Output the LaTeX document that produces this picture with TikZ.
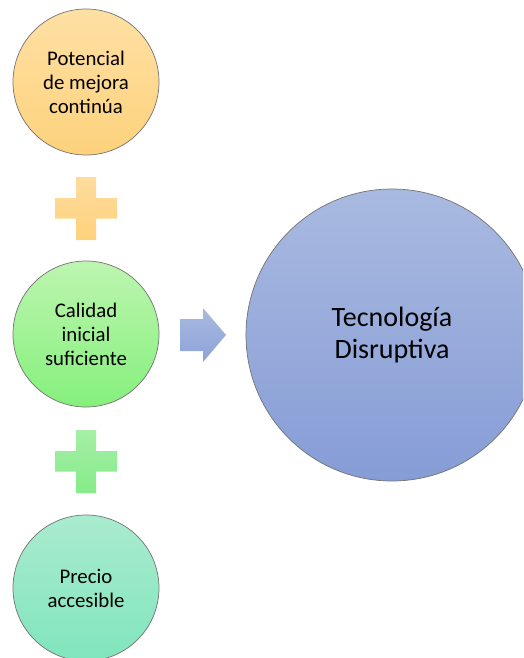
\documentclass[tikz,border=0pt]{standalone}
\usepackage{fontspec}
\setmainfont{Carlito}
\definecolor{orTop}{HTML}{FEE0A4}
\definecolor{orBot}{HTML}{FDD27C}
\definecolor{grTop}{HTML}{BDF5B0}
\definecolor{grBot}{HTML}{85F07C}
\definecolor{teTop}{HTML}{AAEBCF}
\definecolor{teBot}{HTML}{80E5BC}
\definecolor{blTop}{HTML}{A9BAE0}
\definecolor{blBot}{HTML}{869CD6}
\definecolor{arBot}{HTML}{8DA2D8}
\definecolor{plOrTop}{HTML}{FEDC9E}
\definecolor{plOrBot}{HTML}{FED27C}
\definecolor{plGrTop}{HTML}{A6EEA6}
\definecolor{plGrBot}{HTML}{85EC88}
\tikzset{
  disc/.style={circle,inner sep=0pt,minimum size=146pt,draw=black!55,line width=0.7pt,
    align=center,font=\fontsize{20.8}{24}\selectfont,text=black},
  bigdisc/.style={disc,minimum size=292pt,font=\fontsize{28}{32}\selectfont},
  plusmark/.pic={\path[pic actions] (-10,-31.5) -- (10,-31.5) -- (10,-10.5) -- (31,-10.5) -- (31,10) -- (10,10) -- (10,31.5) -- (-10,31.5) -- (-10,10) -- (-31,10) -- (-31,-10.5) -- (-10,-10.5) -- cycle;}
}
\begin{document}
\begin{tikzpicture}[x=1pt,y=-1pt]
\useasboundingbox (0,0) rectangle (523,658);
\clip (0,0) rectangle (523,658);
\node[disc,top color=orTop,bottom color=orBot] (pot) at (86,82) {Potencial\\de mejora\\continúa};
\node[disc,top color=grTop,bottom color=grBot] (cal) at (86,334) {Calidad\\inicial\\suficiente};
\node[disc,top color=teTop,bottom color=teBot] (pre) at (86,588) {Precio\\accesible};
\node[bigdisc,top color=blTop,bottom color=blBot] (tec) at (392,335) {Tecnología\\Disruptiva};
\pic[top color=plOrTop,bottom color=plOrBot] at (86,208.5) {plusmark};
\pic[top color=plGrTop,bottom color=plGrBot] at (86,461.5) {plusmark};
\path[top color=blTop,bottom color=arBot] (180,319) -- (203,319) -- (203,308) -- (226,335) -- (203,362) -- (203,351) -- (180,351) -- cycle;
\end{tikzpicture}
\end{document}
